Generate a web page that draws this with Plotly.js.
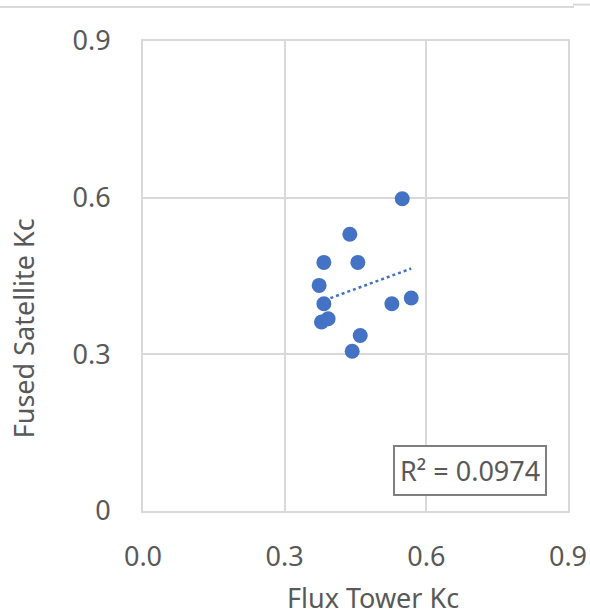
<!DOCTYPE html>
<html>
<head>
<meta charset="utf-8">
<script src="https://cdn.plot.ly/plotly-3.0.1.min.js"></script>
<style>html,body{margin:0;padding:0;background:#fff;}#chart{width:590px;height:615px;}</style>
</head>
<body>
<div id="chart"></div>
<script>
// Flux Tower Kc (x) vs Fused Satellite Kc (y)
const fluxTowerKc = [0.549, 0.438, 0.383, 0.455, 0.373, 0.383, 0.527, 0.568, 0.378, 0.392, 0.460, 0.443];
const fusedSatelliteKc = [0.598, 0.530, 0.476, 0.476, 0.432, 0.397, 0.397, 0.408, 0.362, 0.368, 0.336, 0.306];
const tickVals = [0, 0.3, 0.6, 0.9];
const xTickText = ['0.0', '0.3', '0.6', '0.9'];
const yTickText = ['0', '0.3', '0.6', '0.9'];
const r2Label = 'R² = 0.0974';

// linear trendline from data
const n = fluxTowerKc.length;
const mx = fluxTowerKc.reduce((a, b) => a + b, 0) / n;
const my = fusedSatelliteKc.reduce((a, b) => a + b, 0) / n;
let sxy = 0, sxx = 0;
for (let i = 0; i < n; i++) { sxy += (fluxTowerKc[i] - mx) * (fusedSatelliteKc[i] - my); sxx += (fluxTowerKc[i] - mx) ** 2; }
const slope = sxy / sxx, intercept = my - slope * mx;
const xMin = Math.min(...fluxTowerKc), xMax = Math.max(...fluxTowerKc);
const trendX = [xMin, xMax];
const trendY = trendX.map(v => intercept + slope * v);

const blue = '#4472C4';
const grey = '#595959';
const font = 'Noto Sans, Open Sans, sans-serif';

const traces = [
  { x: trendX, y: trendY, mode: 'lines', line: { color: blue, width: 2.5, dash: 'dot' }, hoverinfo: 'skip' },
  { x: fluxTowerKc, y: fusedSatelliteKc, mode: 'markers', marker: { color: blue, size: 15 } }
];

const layout = {
  width: 590, height: 615,
  margin: { l: 143, r: 22, t: 41, b: 104 },
  paper_bgcolor: '#fff', plot_bgcolor: '#fff',
  showlegend: false,
  font: { family: font, color: grey, size: 27 },
  xaxis: {
    range: [0, 0.9], tickvals: tickVals, ticktext: xTickText,
    showgrid: true, gridcolor: '#d9d9d9', gridwidth: 2,
    showline: true, linecolor: '#d9d9d9', linewidth: 2, mirror: true,
    zeroline: false, ticks: '', ticklabelstandoff: 21,
    tickfont: { size: 27, color: grey, family: font }
  },
  yaxis: {
    range: [0, 0.9], tickvals: tickVals, ticktext: yTickText,
    showgrid: true, gridcolor: '#d9d9d9', gridwidth: 2,
    showline: true, linecolor: '#d9d9d9', linewidth: 2, mirror: true,
    zeroline: false, ticks: '', ticklabelstandoff: 25,
    tickfont: { size: 27, color: grey, family: font }
  },
  annotations: [
    { text: 'Flux Tower Kc', xref: 'paper', yref: 'paper', x: (373 - 143) / 425, y: (510.7 - 597) / 470,
      xanchor: 'center', yanchor: 'middle', showarrow: false, font: { size: 27, color: grey, family: font } },
    { text: 'Fused Satellite Kc', xref: 'paper', yref: 'paper', x: (23 - 143) / 425, y: (510.7 - 328) / 470,
      xanchor: 'center', yanchor: 'middle', textangle: -90, showarrow: false, font: { size: 27, color: grey, family: font } },
    { text: r2Label, xref: 'paper', yref: 'paper', x: (470 - 143) / 425, y: (510.7 - 470) / 470,
      xanchor: 'center', yanchor: 'middle', showarrow: false, bgcolor: '#fff',
      bordercolor: '#7f7f7f', borderwidth: 2, borderpad: 5, font: { size: 27, color: grey, family: font } }
  ],
  shapes: [
    { type: 'line', xref: 'paper', yref: 'paper', x0: -143 / 425, x1: (574 - 143) / 425,
      y0: (510.7 - 6.7) / 470, y1: (510.7 - 6.7) / 470, line: { color: '#d9d9d9', width: 2 } },
    { type: 'line', xref: 'paper', yref: 'paper', x0: (573 - 143) / 425, x1: (590 - 143) / 425,
      y0: (510.7 - 4.3) / 470, y1: (510.7 - 4.3) / 470, line: { color: '#d9d9d9', width: 2 } }
  ]
};

Plotly.newPlot('chart', traces, layout, { displayModeBar: false, staticPlot: true });
</script>
</body>
</html>
